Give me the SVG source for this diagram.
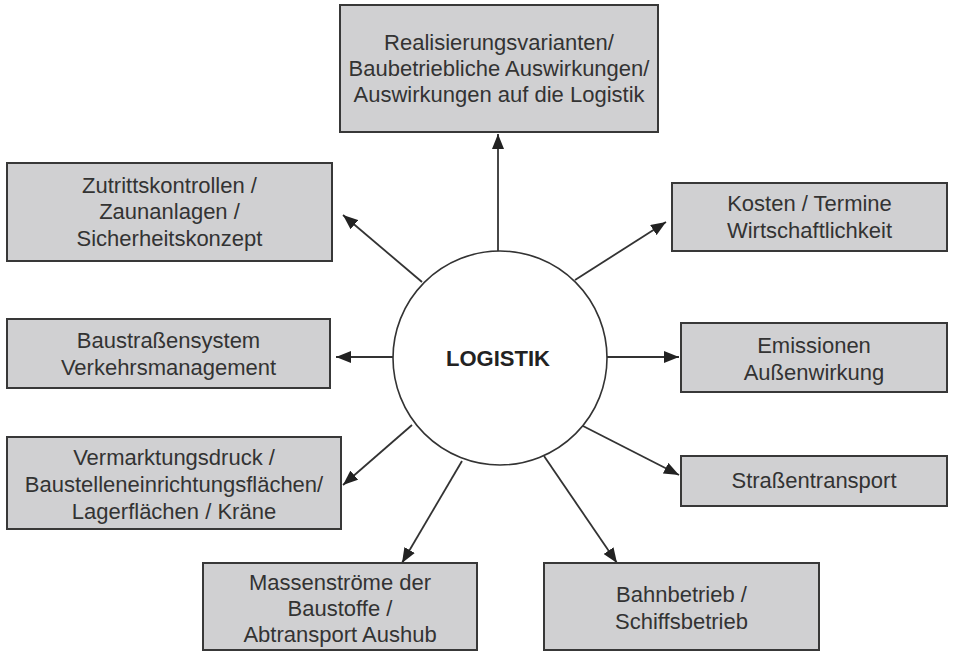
<svg xmlns="http://www.w3.org/2000/svg" width="953" height="652" viewBox="0 0 953 652">
<defs>
<style>
.box{fill:#d0d0d2;stroke:#383838;stroke-width:2}
.t{font-family:"Liberation Sans",Arial,sans-serif;font-size:22px;fill:#333;text-anchor:middle}
.c{fill:#fff;stroke:#333;stroke-width:1.6}
.ct{font-family:"Liberation Sans",Arial,sans-serif;font-size:22px;font-weight:bold;fill:#222;text-anchor:middle}
.a{stroke:#333;stroke-width:1.8;fill:none;marker-end:url(#ah)}
</style>
<marker id="ah" markerUnits="userSpaceOnUse" markerWidth="16" markerHeight="12" refX="15" refY="6" orient="auto">
<path d="M0,0 L15,6 L0,12 Z" fill="#222"/>
</marker>
</defs>
<rect width="953" height="652" fill="#fff"/>
<g id="connectors">
<line class="a" x1="498" y1="251" x2="498" y2="134"/>
<line class="a" x1="422" y1="282" x2="343" y2="215"/>
<line class="a" x1="575" y1="280" x2="666" y2="222"/>
<line class="a" x1="393" y1="357" x2="336" y2="357"/>
<line class="a" x1="607" y1="357" x2="679" y2="357"/>
<line class="a" x1="412" y1="425" x2="343" y2="485"/>
<line class="a" x1="583" y1="426" x2="679" y2="475"/>
<line class="a" x1="462" y1="461" x2="402" y2="563"/>
<line class="a" x1="544" y1="456" x2="617" y2="563"/>
</g>
<g id="logistik">
<circle class="c" cx="500" cy="358" r="107"/>
<text class="ct" x="498" y="366">LOGISTIK</text>
</g>
<g id="realisierung">
<rect class="box" x="340" y="5" width="318" height="127"/>
<text class="t" x="499" y="50">Realisierungsvarianten/</text>
<text class="t" x="499" y="76">Baubetriebliche Auswirkungen/</text>
<text class="t" x="499" y="102">Auswirkungen auf die Logistik</text>
</g>
<g id="zutritt">
<rect class="box" x="7" y="163" width="325" height="98"/>
<text class="t" x="169.5" y="193">Zutrittskontrollen /</text>
<text class="t" x="169.5" y="219">Zaunanlagen /</text>
<text class="t" x="169.5" y="246">Sicherheitskonzept</text>
</g>
<g id="kosten">
<rect class="box" x="672" y="183" width="275" height="68"/>
<text class="t" x="809.5" y="211">Kosten / Termine</text>
<text class="t" x="809.5" y="238">Wirtschaftlichkeit</text>
</g>
<g id="baustrassen">
<rect class="box" x="7" y="319" width="323" height="69"/>
<text class="t" x="168.5" y="348">Baustraßensystem</text>
<text class="t" x="168.5" y="375">Verkehrsmanagement</text>
</g>
<g id="emissionen">
<rect class="box" x="681" y="323" width="266" height="69"/>
<text class="t" x="814" y="353">Emissionen</text>
<text class="t" x="814" y="380">Außenwirkung</text>
</g>
<g id="vermarktung">
<rect class="box" x="7" y="437" width="334" height="92"/>
<text class="t" x="174" y="465">Vermarktungsdruck /</text>
<text class="t" x="174" y="492">Baustelleneinrichtungsflächen/</text>
<text class="t" x="174" y="519">Lagerflächen / Kräne</text>
</g>
<g id="strassentransport">
<rect class="box" x="681" y="456" width="266" height="50"/>
<text class="t" x="814" y="488">Straßentransport</text>
</g>
<g id="massen">
<rect class="box" x="203" y="563" width="274" height="87"/>
<text class="t" x="340" y="590">Massenströme der</text>
<text class="t" x="340" y="616">Baustoffe /</text>
<text class="t" x="340" y="642">Abtransport Aushub</text>
</g>
<g id="bahn">
<rect class="box" x="544" y="563" width="275" height="87"/>
<text class="t" x="681.5" y="602">Bahnbetrieb /</text>
<text class="t" x="681.5" y="629">Schiffsbetrieb</text>
</g>
</svg>
